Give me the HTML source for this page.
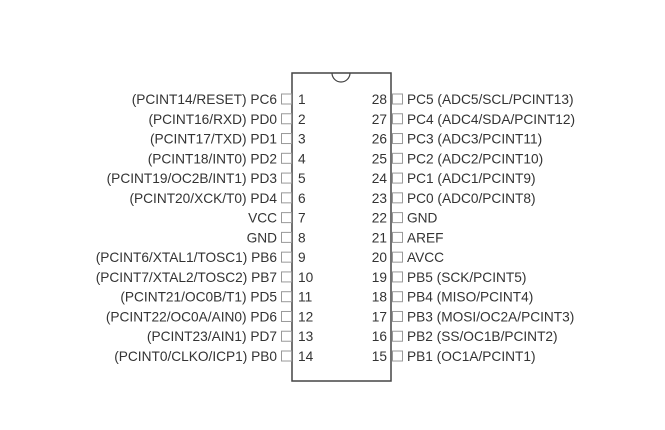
<!DOCTYPE html>
<html><head><meta charset="utf-8"><style>
html,body{margin:0;padding:0;background:#fff;}
svg{display:block;}
text{font-family:"Liberation Sans",Arial,sans-serif;font-size:13.7px;fill:#333;}
</style></head><body>
<svg width="665" height="430" xmlns="http://www.w3.org/2000/svg">
<rect x="292" y="73" width="99" height="308" fill="none" stroke="#444" stroke-width="1.5"/>
<path d="M332 73 A9 9 0 0 0 350 73" fill="none" stroke="#444" stroke-width="1.2"/>
<g id="rows"></g>
</svg>
<script>
var L=["(PCINT14/RESET) PC6","(PCINT16/RXD) PD0","(PCINT17/TXD) PD1","(PCINT18/INT0) PD2","(PCINT19/OC2B/INT1) PD3","(PCINT20/XCK/T0) PD4","VCC","GND","(PCINT6/XTAL1/TOSC1) PB6","(PCINT7/XTAL2/TOSC2) PB7","(PCINT21/OC0B/T1) PD5","(PCINT22/OC0A/AIN0) PD6","(PCINT23/AIN1) PD7","(PCINT0/CLKO/ICP1) PB0"];
var R=["PC5 (ADC5/SCL/PCINT13)","PC4 (ADC4/SDA/PCINT12)","PC3 (ADC3/PCINT11)","PC2 (ADC2/PCINT10)","PC1 (ADC1/PCINT9)","PC0 (ADC0/PCINT8)","GND","AREF","AVCC","PB5 (SCK/PCINT5)","PB4 (MISO/PCINT4)","PB3 (MOSI/OC2A/PCINT3)","PB2 (SS/OC1B/PCINT2)","PB1 (OC1A/PCINT1)"];
var s='';
for(var i=0;i<14;i++){
 var y=99+i*19.77;
 s+='<rect x="281.5" y="'+(y-5)+'" width="10" height="10" fill="none" stroke="#999" stroke-width="1"/>';
 s+='<rect x="392.5" y="'+(y-5)+'" width="10" height="10" fill="none" stroke="#999" stroke-width="1"/>';
 s+='<text x="277" y="'+(y+5)+'" text-anchor="end">'+L[i]+'</text>';
 s+='<text x="298" y="'+(y+5)+'">'+(i+1)+'</text>';
 s+='<text x="387" y="'+(y+5)+'" text-anchor="end">'+(28-i)+'</text>';
 s+='<text x="407" y="'+(y+5)+'">'+R[i]+'</text>';
}
document.getElementById('rows').innerHTML=s;
</script>
</body></html>
